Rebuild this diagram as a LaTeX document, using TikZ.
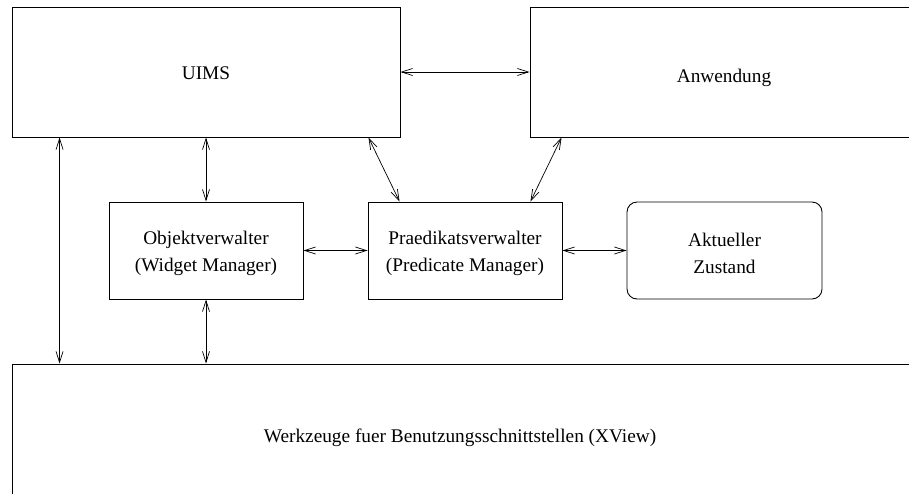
\documentclass[tikz,border=0pt]{standalone}
\usepackage{fontspec}
\setmainfont{Liberation Serif}
\usetikzlibrary{arrows.meta}
\begin{document}
\begin{tikzpicture}[x=1pt,y=-1pt,
  box/.style={draw,line width=0.9pt,inner sep=0pt},
  txt/.style={font={\fontsize{19.3}{27}\selectfont},align=center,inner sep=0pt},
  arr/.style={line width=0.7pt,{Straight Barb[length=11pt,width=7pt]}-{Straight Barb[length=11pt,width=7pt]}}]
\useasboundingbox (0,0) rectangle (909,493);
\clip (0,0) rectangle (909,493);
% boxes
\node[box,minimum width=388pt,minimum height=130pt] (uims) at (206,72) {};
\node[box,minimum width=390pt,minimum height=130pt] (anw) at (725,72) {};
\node[box,minimum width=194pt,minimum height=97pt] (obj) at (206,250.5) {};
\node[box,minimum width=194pt,minimum height=97pt] (praed) at (465,250.5) {};
\node[box,rounded corners=10pt,minimum width=195pt,minimum height=97pt] (akt) at (724.5,250.5) {};
\node[box,minimum width=898pt,minimum height=146pt] (tools) at (461,437) {};
% texts
\node[txt,anchor=base] (uimst) at (206,79) {UIMS};
\node[txt,anchor=base] (anwt) at (724,82) {Anwendung};
\node[txt] (objt) at (206,253) {Objektverwalter\\(Widget Manager)};
\node[txt] (praedt) at (465,253) {Praedikatsverwalter\\(Predicate Manager)};
\node[txt] (aktt) at (724.5,253) {Aktueller\\Zustand};
\node[txt,anchor=base] (toolst) at (460,442) {Werkzeuge fuer Benutzungsschnittstellen (XView)};
% connectors
\draw[arr] ([xshift=48pt]uims.south west) -- ([xshift=48pt]tools.north west);
\draw[arr] (uims.south -| obj.north) -- (obj.north);
\draw[arr] (obj.south) -- (obj.south |- tools.north);
\draw[arr] (uims.east) -- (anw.west);
\draw[arr] ([xshift=-32pt]uims.south east) -- ([xshift=32pt]praed.north west);
\draw[arr] ([xshift=32pt]anw.south west) -- ([xshift=-32pt]praed.north east);
\draw[arr] (obj.east) -- (praed.west);
\draw[arr] (praed.east) -- (akt.west);
\end{tikzpicture}
\end{document}
